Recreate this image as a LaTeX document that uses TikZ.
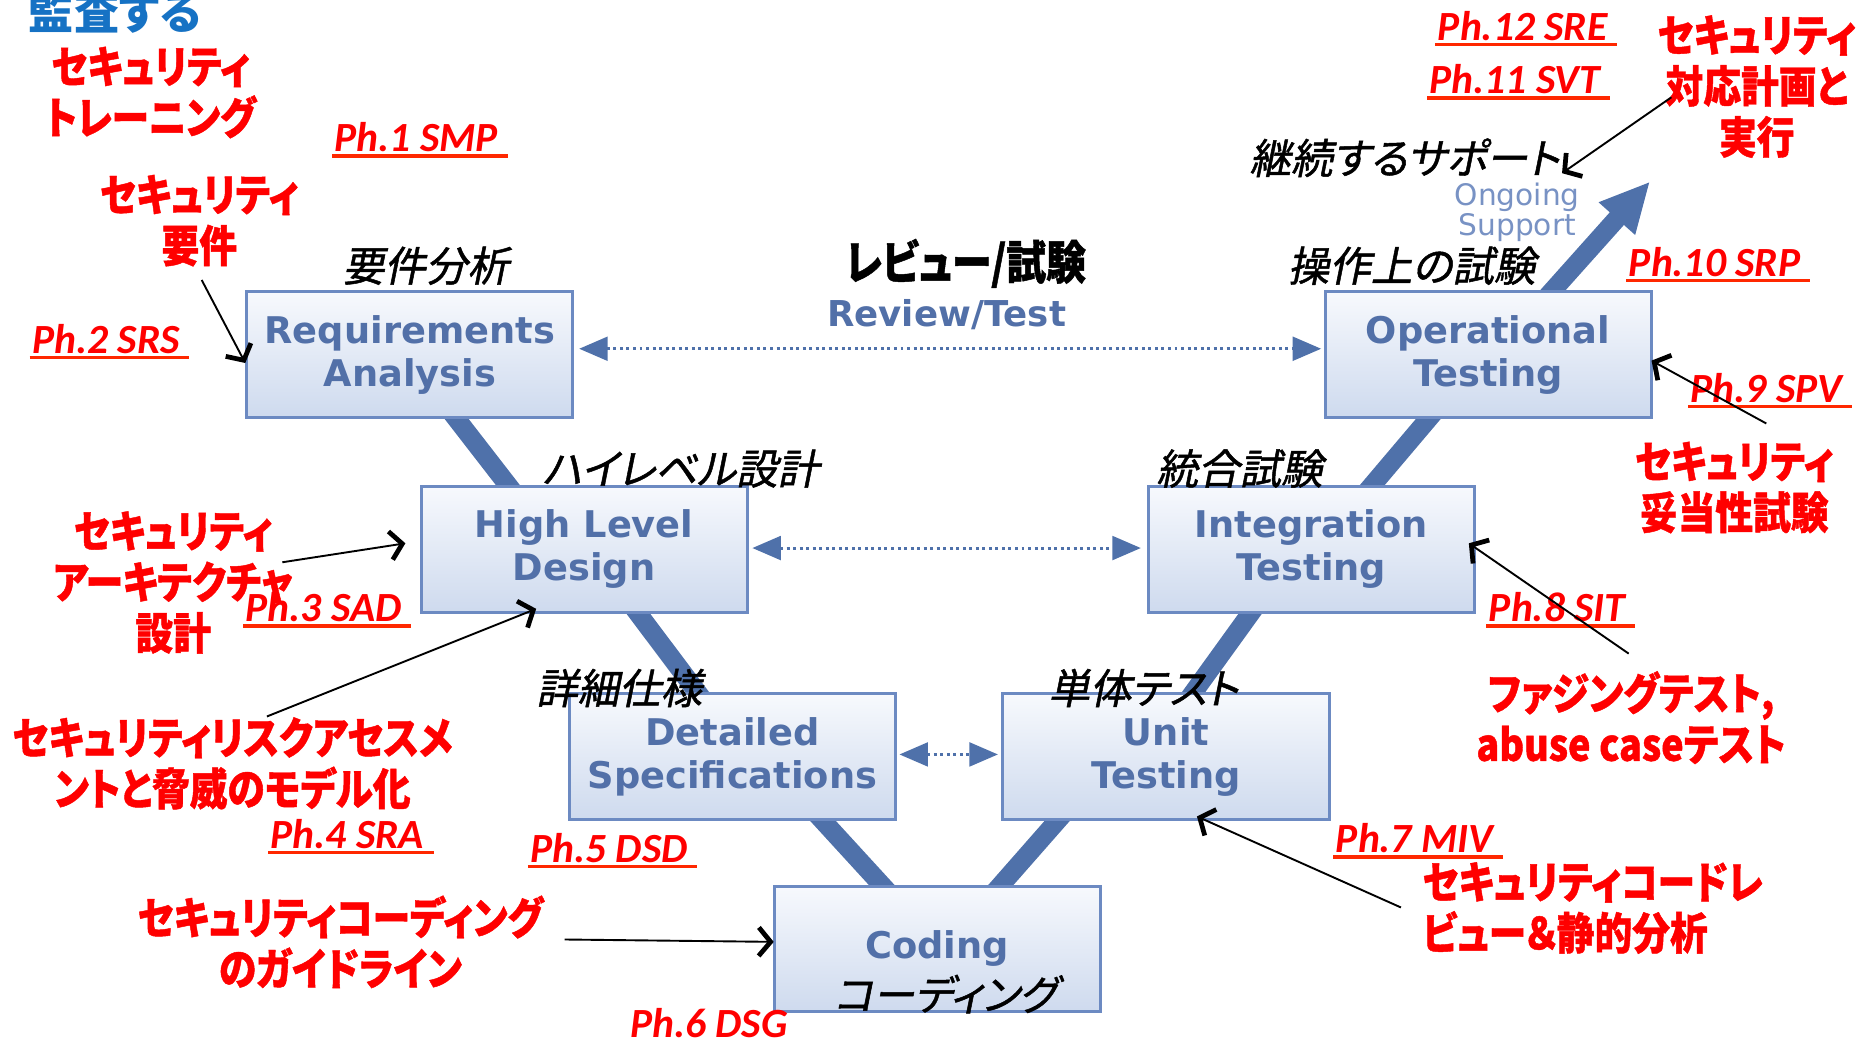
\documentclass[tikz,border=0pt]{standalone}
\usepackage{fontspec}
\usetikzlibrary{arrows.meta,calc}
\newfontfamily\boxfont{DejaVu Sans}
\newfontfamily\phfont{Carlito}
\newfontfamily\jpfont[RawFeature=+palt]{Noto Sans CJK JP}
\newfontfamily\jpredfont[RawFeature=+palt,FakeStretch=0.86,BoldFeatures={FakeBold=1}]{Noto Sans CJK JP}
\newfontfamily\jpslfont[RawFeature=+palt,FakeSlant=0.2,FakeBold=1.2]{Noto Sans CJK JP}
\newcommand\fsz[2]{\fontsize{#1}{#2}\selectfont}
\definecolor{vblue}{RGB}{79,113,170}
\definecolor{boxline}{RGB}{108,138,194}
\definecolor{boxtext}{RGB}{82,112,168}
\definecolor{boxtop}{RGB}{247,249,253}
\definecolor{boxbot}{RGB}{206,218,238}
\definecolor{ongoing}{RGB}{120,146,196}
\definecolor{redtxt}{RGB}{255,0,0}
\definecolor{redline}{RGB}{255,40,0}
\definecolor{auditblue}{RGB}{22,114,196}
\pgfdeclarelayer{background}
\pgfsetlayers{background,main}
\tikzset{
  box/.style={draw=boxline, line width=2.5pt, top color=boxtop, bottom color=boxbot,
    minimum width=275pt, minimum height=106pt, inner sep=0pt, align=center,
    text=boxtext, font=\boxfont\bfseries\fsz{31}{36}},
  vline/.style={draw=vblue, line width=16pt},
  revarrow/.style={draw=vblue, line width=2.5pt, dash pattern=on 2.5pt off 3pt,
    {Triangle[length=24pt,width=20pt]}-{Triangle[length=24pt,width=20pt]}},
  ptr/.style={draw=black, line width=1.6pt,
    -{Straight Barb[length=10pt,width=24pt,line width=4pt]}},
  ph/.style={anchor=base west, inner sep=0pt, text=redtxt,
    font=\phfont\bfseries\itshape\fsz{35}{40}},
  phul/.style={draw=redline, line width=3pt},
  redlab/.style={align=center, text=redtxt, inner sep=0pt,
    font=\jpredfont\bfseries\fsz{37}{43}},
  blab/.style={text=black, inner sep=0pt, font=\jpslfont\fsz{35}{40}},
}
\newcommand\phlab[3]{\node[ph] (#1) at (#2) {#3};
  \draw[phul] ($(#1.base west)+(-2,3.5)$) -- ($(#1.base east)+(8,3.5)$);}
\begin{document}
\begin{tikzpicture}[x=1pt,y=-1pt]
\path[use as bounding box] (0,0) rectangle (1568,878);
\clip (0,0) rectangle (1568,878);

% boxes
\node[box] (req)  at (345.5,299) {Requirements\\Analysis};
\node[box] (hld)  at (492.5,463) {High Level\\Design};
\node[box] (det)  at (617.5,638) {Detailed\\Specifications};
\node[box] (cod)  at (790,800)   {Coding};
\node[box] (unit) at (983,638)   {Unit\\Testing};
\node[box] (intg) at (1105.5,463) {Integration\\Testing};
\node[box] (op)   at (1254.5,299) {Operational\\Testing};
\coordinate (optip) at (1391,153);

% V legs behind the boxes
\begin{pgfonlayer}{background}
\draw[vline, shorten <=-10pt, shorten >=-10pt] ($(req.south)+(39.5,0)$) -- ($(hld.north)+(-64.5,0)$);
\draw[vline, shorten <=-10pt, shorten >=-10pt] ($(hld.south)+(45.5,0)$) -- ($(det.north)+(-29.5,0)$);
\draw[vline, shorten <=-10pt, shorten >=-10pt] ($(det.south)+(76.5,0)$) -- ($(cod.north)+(-47,0)$);
\draw[vline, shorten <=-10pt, shorten >=-10pt] ($(cod.north)+(54,0)$) -- ($(unit.south)+(-92,0)$);
\draw[vline, shorten <=-10pt, shorten >=-10pt] ($(unit.north)+(23,0)$) -- ($(intg.south)+(-51.5,0)$);
\draw[vline, shorten <=-10pt, shorten >=-10pt] ($(intg.north)+(51.5,0)$) -- ($(op.south)+(-50.5,0)$);
\draw[vline, shorten <=-10pt, -{Triangle[length=42pt,width=38pt]}] ($(op.north)+(54.5,0)$) -- (optip);
\end{pgfonlayer}

% review / test arrows
\draw[revarrow] ($(req.east)+(4,-5)$) -- ($(op.west)+(-2,-5)$);
\draw[revarrow] ($(hld.east)+(3,-1)$) -- ($(intg.west)+(-5,-1)$);
\draw[revarrow] ($(det.east)+(2,-2)$) -- ($(unit.west)+(-3,-2)$);
\node[inner sep=0pt, text=boxtext, font=\boxfont\bfseries\fsz{30}{30}] (rt) at (798,265) {Review/Test};
\node[inner sep=0pt, text=black, font=\jpredfont\bfseries\fsz{39}{39}] (rtjp) at (814,222) {レビュー/試験};
\node[inner sep=0pt, align=center, text=ongoing, font=\boxfont\fsz{25}{26}] (ongo) at (1279,179) {Ongoing\\Support};

% black phase labels
\node[blab] (l1) at (359,224) {要件分析};
\node[blab] (l2) at (574,395) {ハイレベル設計};
\node[blab] (l3) at (522,580) {詳細仕様};
\node[blab] (l4) at (797,838) {コーディング};
\node[blab] (l5) at (964,580) {単体テスト};
\node[blab] (l6) at (1045,395) {統合試験};
\node[blab] (l7) at (1190,224) {操作上の試験};
\node[blab] (sup) at (1184,133) {継続するサポート};

% red security labels
\node[anchor=base, inner sep=0pt, text=auditblue, font=\jpfont\bfseries\fsz{38}{38}] (audit) at (97,25) {監査する};
\node[redlab] (train) at (127,78) {セキュリティ\\トレーニング};
\node[redlab] (reqlab) at (168,186) {セキュリティ\\要件};
\node[redlab] (archlab) at (146,491) {セキュリティ\\アーキテクチャ\\設計};
\node[redlab] (risklab) at (196,643.5) {セキュリティリスクアセスメ\\ントと脅威のモデル化};
\node[redlab] (guidelab) at (287,794) {セキュリティコーディング\\のガイドライン};
\node[redlab] (fuzzlab) at (1375,605) {ファジングテスト,\\abuse caseテスト};
\node[redlab] (validlab) at (1462,411) {セキュリティ\\妥当性試験};
\node[redlab] (resplab) at (1481,73) {セキュリティ\\対応計画と\\実行};
\node[redlab, align=left, anchor=west] (revlab) at (1199,765.5) {セキュリティコードレ\\ビュー＆静的分析};

% phase ids
\phlab{p1}{282,128}{Ph.1 SMP}
\phlab{p2}{27,298}{Ph.2 SRS}
\phlab{p3}{207,524}{Ph.3 SAD}
\phlab{p4}{228,715}{Ph.4 SRA}
\phlab{p5}{447,727}{Ph.5 DSD}
\node[ph] (p6) at (531,875) {Ph.6 DSG};
\phlab{p7}{1126,719}{Ph.7 MIV}
\phlab{p8}{1255,524}{Ph.8 SIT}
\phlab{p9}{1425,339}{Ph.9 SPV}
\phlab{p10}{1373,233}{Ph.10 SRP}
\phlab{p11}{1205,79}{Ph.11 SVT}
\phlab{p12}{1212,34}{Ph.12 SRE}

% pointer arrows
\coordinate (t1) at (170,236);
\coordinate (t2) at (238,474);
\coordinate (t3) at (225,604);
\coordinate (t4) at (476,792);
\coordinate (t5) at (1181,765);
\coordinate (t6) at (1373,551);
\coordinate (t7) at (1489,357);
\coordinate (t8) at (1409,82);
\draw[ptr] (t1) -- ($(req.west)+(0,7)$);
\draw[ptr] (t2) -- ($(hld.west)+(-12,-5)$);
\draw[ptr] (t3) -- ($(hld.south)+(-40.5,-4)$);
\draw[ptr] (t4) -- ($(cod.west)+(1,-6)$);
\draw[ptr] (t5) -- ($(unit.south)+(26,-4)$);
\draw[ptr] (t6) -- ($(intg.east)+(-6,-5)$);
\draw[ptr] (t7) -- ($(op.east)+(-1,5)$);
\draw[ptr] (t8) -- ($(sup.east)+(2,13)$);
\end{tikzpicture}
\end{document}
